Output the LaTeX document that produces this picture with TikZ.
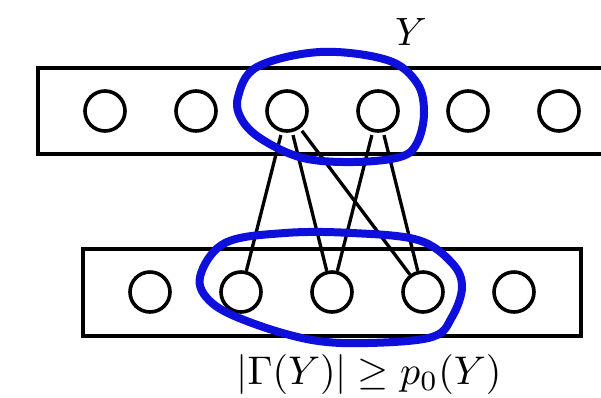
\documentclass[tikz,border=0pt]{standalone}
\definecolor{blob}{RGB}{15,15,220}
\begin{document}
\begin{tikzpicture}[x=1pt,y=-1pt,
  vtx/.style={draw=black,line width=3.6pt,circle,minimum size=40pt,inner sep=0pt},
  bar/.style={draw=black,line width=4.2pt},
  edge/.style={draw=black,line width=3.3pt,shorten <=3pt},
  blobline/.style={draw=blob,line width=8pt,line join=round}]
\useasboundingbox (0,0) rectangle (601,397);
\fill[white] (0,0) rectangle (601,397);
% rectangles
\draw[bar] (38,68) rectangle (650,154);
\draw[bar] (83,249) rectangle (581,336);
% top vertices
\foreach \i/\x in {1/105,2/196,3/287,4/378,5/468,6/559}
  \node[vtx] (t\i) at (\x,111) {};
% bottom vertices
\foreach \i/\x in {1/150,2/241,3/332,4/423,5/514}
  \node[vtx] (b\i) at (\x,292) {};
% edges
\draw[edge] (t3) -- (b2);
\draw[edge] (t3) -- (b3);
\draw[edge] (t3) -- (b4);
\draw[edge] (t4) -- (b3);
\draw[edge] (t4) -- (b4);
% blue blobs
\draw[blobline] plot[smooth cycle,tension=0.6] coordinates
  {(238,97) (257,67) (320,52) (387,60) (417,83) (424,113) (417,143) (400,157) (353,162) (303,158) (263,140) (242,120)};
\draw[blobline] plot[smooth cycle,tension=0.6] coordinates
  {(200,277) (225,243) (285,233) (352,233) (418,240) (452,263) (462,287) (452,317) (432,337) (368,343) (312,340) (252,323) (212,303)};
% labels
\node[scale=3.95] (ylab) at (411,32) {$Y$};
\node[scale=4] (glab) at (369,374) {$|\Gamma(Y)|\geq p_0(Y)$};
\end{tikzpicture}
\end{document}
